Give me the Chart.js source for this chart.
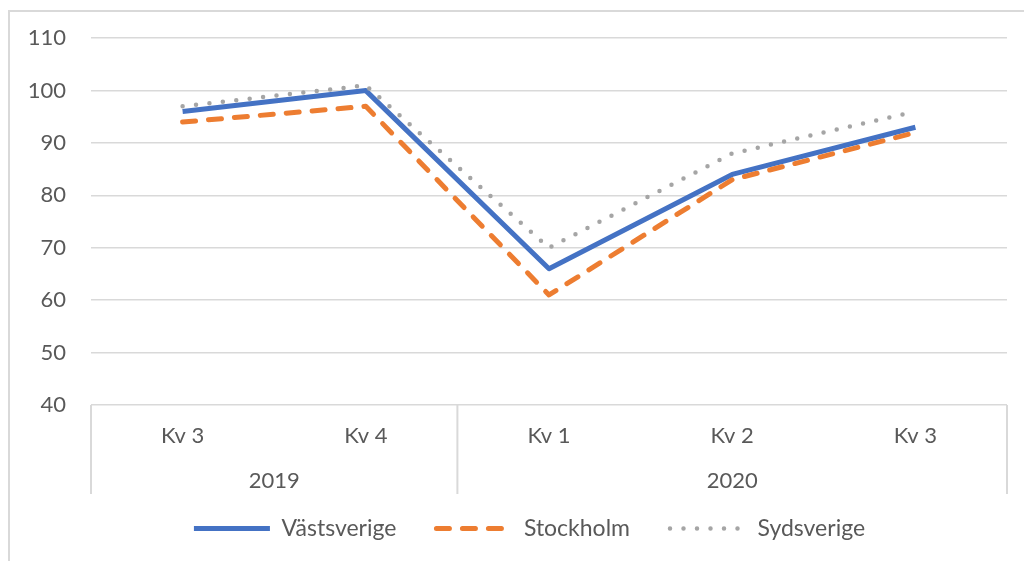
<!DOCTYPE html>
<html>
<head>
<meta charset="utf-8">
<title>Kvartal</title>
<script src="https://cdn.jsdelivr.net/npm/chart.js@4/dist/chart.umd.min.js"></script>
<style>
  body { margin: 0; background: #fff; }
  #wrap { position: relative; width: 1024px; height: 561px; overflow: hidden; }
  #frame { position: absolute; left: 8px; top: 10px; width: 1100px; height: 600px; border: 2px solid #d9d9d9; pointer-events: none; }
</style>
</head>
<body>
<div id="wrap">
  <canvas id="myChart" width="1024" height="561"></canvas>
  <div id="frame"></div>
</div>
<script>
const quarters = ['Kv 3', 'Kv 4', 'Kv 1', 'Kv 2', 'Kv 3'];
const years = ['2019', '2020'];
const yearSpans = [2, 3]; // how many quarters each year covers
const vastsverige = [96, 100, 66, 84, 93];
const stockholm = [94, 97, 61, 83, 92];
const sydsverige = [97, 101, 70, 88, 96];

const textColor = '#595959';
const gridColor = '#d9d9d9';

Chart.defaults.font.family = 'Lato, "Open Sans", sans-serif';
Chart.defaults.font.size = 22;
Chart.defaults.color = textColor;

// second row of the category axis: year groups with separator lines
const yearAxis = {
  id: 'yearAxis',
  afterLayout(chart) {
    // legend sits a bit right of the canvas centre
    chart.legend.left += 26;
    chart.legend.right += 26;
  },
  afterDraw(chart) {
    const ctx = chart.ctx;
    const x = chart.scales.x;
    const top = chart.chartArea.bottom;
    let edges = [x.left];
    let idx = 0;
    yearSpans.forEach((span) => {
      idx += span;
      if (idx < quarters.length) {
        edges.push((x.getPixelForValue(idx - 1) + x.getPixelForValue(idx)) / 2);
      } else {
        edges.push(x.right);
      }
    });
    ctx.save();
    ctx.strokeStyle = gridColor;
    ctx.lineWidth = 2;
    edges.forEach(e => {
      ctx.beginPath();
      ctx.moveTo(e, top);
      ctx.lineTo(e, top + 89);
      ctx.stroke();
    });
    ctx.fillStyle = textColor;
    ctx.font = '22px Lato, "Open Sans", sans-serif';
    ctx.textAlign = 'center';
    ctx.textBaseline = 'middle';
    years.forEach((y, i) => {
      ctx.fillText(y, (edges[i] + edges[i + 1]) / 2, top + 76);
    });
    ctx.restore();
  }
};

const ctx = document.getElementById('myChart').getContext('2d');
new Chart(ctx, {
  type: 'line',
  data: {
    labels: quarters,
    datasets: [
      {
        label: 'Västsverige',
        data: vastsverige,
        borderColor: '#4472c4',
        backgroundColor: '#4472c4',
        borderWidth: 5,
        order: 3
      },
      {
        label: 'Stockholm',
        data: stockholm,
        borderColor: '#ed7d31',
        backgroundColor: '#ed7d31',
        borderWidth: 5,
        borderDash: [13, 13],
        borderCapStyle: 'round',
        order: 2
      },
      {
        label: 'Sydsverige',
        data: sydsverige,
        borderColor: '#a5a5a5',
        backgroundColor: '#a5a5a5',
        borderWidth: 4.5,
        borderDash: [0, 13.5],
        borderCapStyle: 'round',
        order: 1
      }
    ]
  },
  options: {
    responsive: false,
    animation: false,
    elements: {
      point: { radius: 0, hoverRadius: 0 },
      line: { tension: 0, borderJoinStyle: 'round' }
    },
    layout: {
      padding: { top: 38, right: 17, bottom: 11, left: 0 }
    },
    scales: {
      x: {
        offset: true,
        grid: { display: false, drawTicks: false },
        border: { display: false },
        ticks: { padding: 18, color: textColor },
        afterFit: (scale) => { scale.height = 72; }
      },
      y: {
        min: 40,
        max: 110,
        ticks: { stepSize: 10, padding: 25, color: textColor },
        grid: { color: gridColor, lineWidth: 1.5, drawTicks: false },
        border: { display: false },
        afterFit: (scale) => { scale.width = 91; }
      }
    },
    plugins: {
      tooltip: { enabled: false },
      legend: {
        position: 'bottom',
        labels: {
          usePointStyle: true,
          pointStyle: 'line',
          pointStyleWidth: 76,
          padding: 40,
          color: textColor,
          font: { size: 23 },
          sort: (a, b) => a.datasetIndex - b.datasetIndex,
          // legend samples should carry the dataset's dash pattern
          generateLabels: (chart) => {
            const items = Chart.defaults.plugins.legend.labels.generateLabels(chart);
            items.forEach(item => {
              const ds = chart.data.datasets[item.datasetIndex];
              item.lineDash = ds.borderDash || [];
              item.lineCap = ds.borderCapStyle || 'butt';
              item.lineWidth = ds.borderWidth;
              item.strokeStyle = ds.borderColor;
              item.pointStyle = 'line';
            });
            return items;
          }
        }
      }
    }
  },
  plugins: [yearAxis]
});
</script>
</body>
</html>
